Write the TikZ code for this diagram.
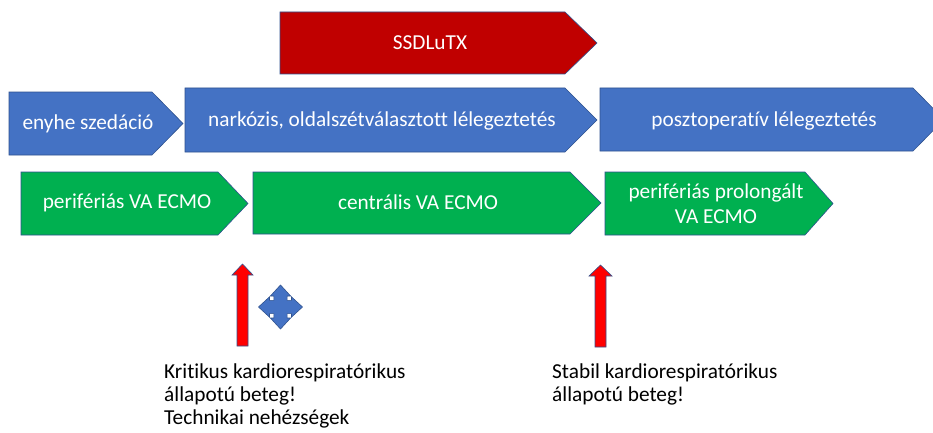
\documentclass[tikz,border=0pt]{standalone}
\usepackage{fontspec}
\setmainfont[Ligatures={NoCommon}]{Carlito}
\begin{document}
\begin{tikzpicture}[x=1pt,y=1pt,
  outline/.style={draw=edgeblue, line width=0.6pt, line join=miter},
  bluestage/.style={outline, fill=stageblue},
  greenstage/.style={outline, fill=stagegreen},
  redstage/.style={outline, fill=stagered},
  label/.style={text=white, font=\fontsize{21.3}{25}\selectfont, align=center, inner sep=0pt},
  note/.style={text=black, font=\fontsize{21.3}{23}\selectfont, align=left, anchor=north west, inner sep=0pt},
  pointer/.style={outline, fill=pointred}
]
\definecolor{stageblue}{HTML}{4472C4}
\definecolor{edgeblue}{HTML}{2F528F}
\definecolor{stagegreen}{HTML}{00B050}
\definecolor{stagered}{HTML}{C00000}
\definecolor{pointred}{HTML}{FF0000}

\clip (0,0) rectangle (933,432);
\fill[white] (0,0) rectangle (933,432);

% chevron: style, left x, shoulder x, tip x, top y, bottom y (y measured from top)
\newcommand{\chev}[6]{%
  \draw[#1] (#2,432-#5) -- (#3,432-#5) -- (#4,{432-(#5+#6)/2}) -- (#3,432-#6) -- (#2,432-#6) -- cycle;}

% top row: transplant phase
\chev{redstage}{280}{565}{597}{12}{74}
\node[label] (tx) at (430,432-43) {SSDLuTX};

% ventilation row
\chev{bluestage}{9}{152}{183}{92}{155}
\chev{bluestage}{185}{565}{597}{88}{152}
\chev{bluestage}{600}{913}{944}{88}{151}
\node[label] (sed) at (88,432-124) {enyhe szedáció};
\node[label] (nark) at (382,432-121) {narkózis, oldalszétválasztott lélegeztetés};
\node[label] (post) at (764,432-121) {posztoperatív lélegeztetés};

% ECMO row
\chev{greenstage}{21}{218}{248}{172}{235}
\chev{greenstage}{253}{570}{601}{172}{234}
\chev{greenstage}{605}{805}{833}{172}{235}
\node[label] (pva) at (127,432-203) {perifériás VA ECMO};
\node[label] (cva) at (418,432-202) {centrális VA ECMO};
\node[label] (pro) at (716,432-204) {perifériás prolongált\\VA ECMO};

% upward pointers marking the transitions
\draw[pointer] (237,432-346) -- (237,432-275) -- (232,432-275) -- (242.5,432-264)
  -- (253,432-275) -- (248,432-275) -- (248,432-346) -- cycle;
\draw[pointer] (595,432-347) -- (595,432-276) -- (589,432-276) -- (600.5,432-265)
  -- (612,432-276) -- (606,432-276) -- (606,432-347) -- cycle;

% four-way arrow
\begin{scope}[shift={(280.5,432-307)}, scale=22]
  \draw[bluestage, line width=0.6pt]
    (0,1) -- (0.46,0.5) -- (0.3,0.5) -- (0.3,0.3) -- (0.5,0.3) -- (0.5,0.46)
    -- (1,0) -- (0.5,-0.46) -- (0.5,-0.3) -- (0.3,-0.3) -- (0.3,-0.5) -- (0.46,-0.5)
    -- (0,-1) -- (-0.46,-0.5) -- (-0.3,-0.5) -- (-0.3,-0.3) -- (-0.5,-0.3) -- (-0.5,-0.46)
    -- (-1,0) -- (-0.5,0.46) -- (-0.5,0.3) -- (-0.3,0.3) -- (-0.3,0.5) -- (-0.46,0.5) -- cycle;
\end{scope}

% notes
\node[note] (crit) at (164,432-364) {Kritikus kardiorespiratórikus\\állapotú beteg!\\Technikai nehézségek};
\node[note] (stab) at (552,432-364) {Stabil kardiorespiratórikus\\állapotú beteg!};
\end{tikzpicture}
\end{document}
